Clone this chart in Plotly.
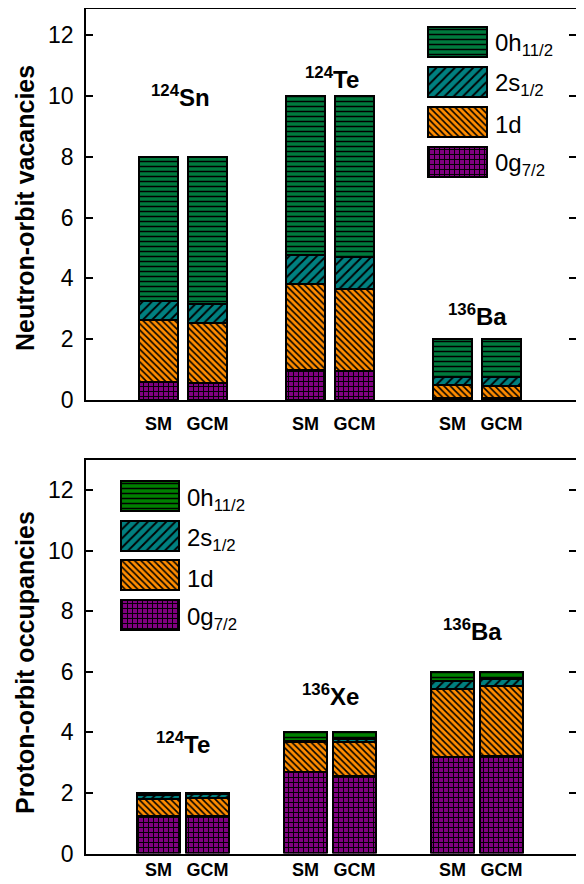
import plotly.graph_objects as go

# the page body adds an 8px margin, so the figure is drawn 8px smaller
OFF = 8
W, H = 584 - OFF, 884 - OFF

# ---------------- data ----------------
methods = ["SM", "GCM"]
orbits = ["0g7/2", "1d", "2s1/2", "0h11/2"]          # stacking order, bottom -> top
orbit_labels = ["0g<sub>7/2</sub>", "1d", "2s<sub>1/2</sub>", "0h<sub>11/2</sub>"]

nuclei_top = ["<sup>124</sup>Sn", "<sup>124</sup>Te", "<sup>136</sup>Ba"]
nuclei_bot = ["<sup>124</sup>Te", "<sup>136</sup>Xe", "<sup>136</sup>Ba"]

# neutron-orbit vacancies, bar order: nucleus1 SM, nucleus1 GCM, nucleus2 SM, ...
n_0g = [0.60, 0.55, 0.98, 0.95, 0.08, 0.05]
n_1d = [2.03, 1.99, 2.82, 2.70, 0.41, 0.41]
n_2s = [0.63, 0.62, 0.98, 1.05, 0.28, 0.31]
n_0h = [4.74, 4.84, 5.22, 5.30, 1.23, 1.23]

# proton-orbit occupancies
p_0g = [1.25, 1.25, 2.70, 2.57, 3.19, 3.21]
p_1d = [0.56, 0.58, 0.97, 1.12, 2.25, 2.34]
p_2s = [0.12, 0.12, 0.05, 0.08, 0.25, 0.22]
p_0h = [0.07, 0.05, 0.28, 0.23, 0.31, 0.23]

y_ticks = [0, 2, 4, 6, 8, 10, 12]

# ---------------- style ----------------
FONT = "Arial, Liberation Sans, sans-serif"
cols_top = ["#800080", "#ff8c00", "#008080", "#007a3d"]
cols_bot = ["#800080", "#ff8c00", "#008080", "#008000"]
patterns = [
    dict(shape="+", size=5, solidity=0.35),
    dict(shape="\\", size=4.5, solidity=0.35),
    dict(shape="/", size=6.5, solidity=0.28),
    dict(shape="-", size=5, solidity=0.3),
]

def pxx(p):
    return min(1.0, max(0.0, (p - OFF) / W))

def pxy(p):
    return min(1.0, max(0.0, 1 - (p - OFF) / H))

def marker(col, pat):
    return dict(color=col, line=dict(color="black", width=2),
                pattern=dict(fgcolor="black", bgcolor=col, fillmode="replace", **pat))

# x positions: group index * 3 + method index
x_pos = [g * 3 + m for g in range(3) for m in range(2)]
x_text = methods * 3

fig = go.Figure()

top_series = [n_0g, n_1d, n_2s, n_0h]
bot_series = [p_0g, p_1d, p_2s, p_0h]

for i, vals in enumerate(top_series):
    fig.add_trace(go.Bar(
        x=x_pos, y=vals, width=0.8, name=orbits[i], showlegend=False,
        xaxis="x", yaxis="y", marker=marker(cols_top[i], patterns[i]),
    ))
for i, vals in enumerate(bot_series):
    fig.add_trace(go.Bar(
        x=x_pos, y=vals, width=0.88, name=orbits[i], showlegend=False,
        xaxis="x2", yaxis="y2", marker=marker(cols_bot[i], patterns[i]),
    ))

# legend keys (swatches drawn as horizontal bars in small inset axes)
for i in range(4):
    fig.add_trace(go.Bar(
        y=[orbits[i]], x=[1], orientation="h", width=0.75, showlegend=False,
        xaxis="x3", yaxis="y3", hoverinfo="skip", marker=marker(cols_top[i], patterns[i]),
    ))
    fig.add_trace(go.Bar(
        y=[orbits[i]], x=[1], orientation="h", width=0.75, showlegend=False,
        xaxis="x4", yaxis="y4", hoverinfo="skip", marker=marker(cols_bot[i], patterns[i]),
    ))

xdom = [pxx(86), pxx(576)]
common_x = dict(range=[-1.48, 8.52], showline=True, linecolor="black", linewidth=1.5,
                mirror=True, ticks="", tickvals=x_pos, ticktext=x_text,
                tickfont=dict(family=FONT, size=18, color="black", weight="bold"),
                showgrid=False, zeroline=False, fixedrange=True)
common_y = dict(showline=True, linecolor="black", linewidth=1.5, mirror="ticks",
                ticks="inside", ticklen=7, tickwidth=1.5, tickcolor="black",
                tickvals=y_ticks, tickfont=dict(family=FONT, size=23, color="black"),
                ticklabelstandoff=6, showgrid=False, zeroline=False)

fig.update_layout(
    width=W, height=H,
    margin=dict(l=0, r=0, t=0, b=0, autoexpand=False),
    paper_bgcolor="white", plot_bgcolor="white",
    barmode="stack", bargap=0,
    xaxis=dict(domain=xdom, anchor="y", ticklabelstandoff=7, **common_x),
    yaxis=dict(domain=[pxy(400), pxy(9)], range=[0, 12.86], anchor="x", **common_y),
    xaxis2=dict(domain=xdom, anchor="y2", ticklabelstandoff=-1, **common_x),
    yaxis2=dict(domain=[pxy(853.5), pxy(460)], range=[0, 13.0], anchor="x2", **common_y),
    xaxis3=dict(domain=[pxx(427), pxx(488)], range=[-0.02, 1.02], anchor="y3",
                visible=False, fixedrange=True),
    yaxis3=dict(domain=[pxy(182), pxy(22)], range=[-0.5, 3.5], anchor="x3",
                categoryorder="array", categoryarray=orbits, visible=False, fixedrange=True),
    xaxis4=dict(domain=[pxx(120), pxx(180)], range=[-0.02, 1.02], anchor="y4",
                visible=False, fixedrange=True),
    yaxis4=dict(domain=[pxy(635), pxy(476)], range=[-0.5, 3.5], anchor="x4",
                categoryorder="array", categoryarray=orbits, visible=False, fixedrange=True),
    showlegend=False,
)

ann = []
# y-axis titles
ann.append(dict(text="<b>Neutron-orbit vacancies</b>", x=pxx(25), y=pxy(208),
                xref="paper", yref="paper", textangle=-90, showarrow=False,
                xanchor="center", yanchor="middle",
                font=dict(family=FONT, size=25, color="black")))
ann.append(dict(text="<b>Proton-orbit occupancies</b>", x=pxx(25), y=pxy(663),
                xref="paper", yref="paper", textangle=-90, showarrow=False,
                xanchor="center", yanchor="middle",
                font=dict(family=FONT, size=25, color="black")))

# nucleus labels
lab_top_y = [10.0, 10.6, 2.8]
lab_bot_y = [3.65, 5.25, 7.4]
lab_top_dx = [-0.05, 0.05, 0.0]
lab_bot_dx = [0.0, 0.0, -0.1]
for g in range(3):
    ann.append(dict(text="<b>" + nuclei_top[g] + "</b>", x=g * 3 + 0.5 + lab_top_dx[g],
                    y=lab_top_y[g], xref="x", yref="y", showarrow=False, yanchor="middle",
                    font=dict(family=FONT, size=24, color="black")))
    ann.append(dict(text="<b>" + nuclei_bot[g] + "</b>", x=g * 3 + 0.5 + lab_bot_dx[g],
                    y=lab_bot_y[g], xref="x2", yref="y2", showarrow=False, yanchor="middle",
                    font=dict(family=FONT, size=24, color="black")))

# legend texts
top_rows = [162, 122, 82, 42]
bot_rows = [615, 575, 536, 496]
for i in range(4):
    ann.append(dict(text=orbit_labels[i], x=pxx(493), y=pxy(top_rows[i] + 3),
                    xref="paper", yref="paper", xanchor="left", yanchor="middle",
                    showarrow=False, font=dict(family=FONT, size=24, color="black")))
    ann.append(dict(text=orbit_labels[i], x=pxx(185), y=pxy(bot_rows[i] + 3),
                    xref="paper", yref="paper", xanchor="left", yanchor="middle",
                    showarrow=False, font=dict(family=FONT, size=24, color="black")))

fig.update_layout(annotations=ann)

fig.write_html("out.html")
